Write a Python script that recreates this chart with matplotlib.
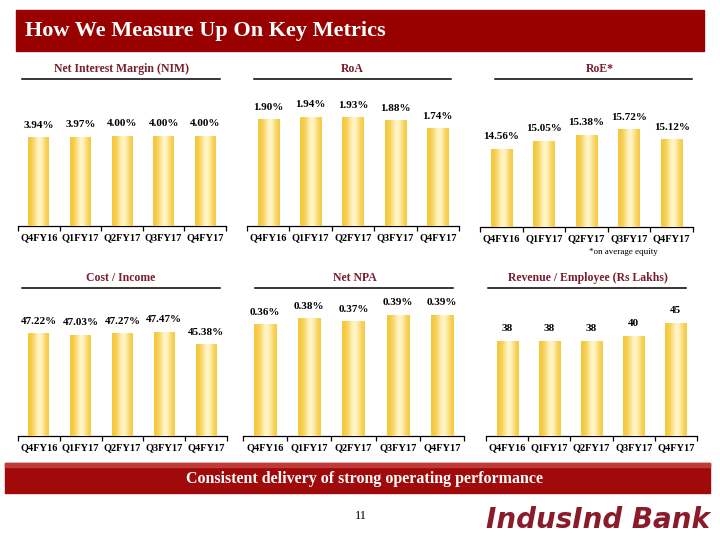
import numpy as np
import matplotlib
matplotlib.use("Agg")
import matplotlib.pyplot as plt
from matplotlib.patches import Rectangle

# data
quarters = ["Q4FY16", "Q1FY17", "Q2FY17", "Q3FY17", "Q4FY17"]
nim      = [3.94, 3.97, 4.00, 4.00, 4.00]
roa      = [1.90, 1.94, 1.93, 1.88, 1.74]
roe      = [14.56, 15.05, 15.38, 15.72, 15.12]
cost_inc = [47.22, 47.03, 47.27, 47.47, 45.38]
net_npa  = [0.36, 0.38, 0.37, 0.39, 0.39]
rev_emp  = [38, 38, 38, 40, 45]

W, H = 720, 540
RED = "#990000"
HEAD = "#7a1e2e"
SERIF = "Liberation Serif"

fig = plt.figure(figsize=(7.2, 5.4), dpi=100)
fig.patch.set_facecolor("white")

def box(x0, y0, x1, y1):
    # pixel box (top-left origin) -> figure fraction
    return [x0 / W, 1 - y1 / H, (x1 - x0) / W, (y1 - y0) / H]

# gold gradient across a bar
g = np.linspace(0, 1, 64)
shade = np.exp(-((g - 0.55) / 0.28) ** 2)
c_edge = np.array([0.96, 0.78, 0.22])
c_mid = np.array([1.0, 0.96, 0.78])
grad = c_edge[None, :] * (1 - shade[:, None]) + c_mid[None, :] * shade[:, None]
grad = grad[None, :, :]

def panel(px, values, ylo, yhi, fmt, title, hx, hline):
    ax = fig.add_axes(box(*px))
    x = np.arange(len(values))
    bars = ax.bar(x, [v - ylo for v in values], bottom=ylo, width=0.5,
                  color="#f5cb45", linewidth=0, zorder=2)
    for b, v in zip(bars, values):
        im = ax.imshow(grad, extent=(b.get_x(), b.get_x() + b.get_width(), ylo, v),
                       aspect="auto", zorder=3, interpolation="bilinear")
        im.set_clip_path(b)
        ax.annotate(fmt.format(v), (b.get_x() + b.get_width() / 2, v),
                    xytext=(0, 5.5), textcoords="offset points", ha="center",
                    va="bottom", fontsize=8, fontweight="bold", family=SERIF)
    ax.set_xlim(-0.5, len(values) - 0.5)
    ax.set_ylim(ylo, yhi)
    for s in ["top", "right", "left"]:
        ax.spines[s].set_visible(False)
    ax.spines["bottom"].set_color("black")
    ax.spines["bottom"].set_linewidth(0.9)
    ax.set_yticks([])
    ax.set_xticks(x)
    ax.set_xticklabels(quarters, fontsize=7.5, fontweight="bold", family=SERIF)
    ax.set_xticks(np.arange(len(values) + 1) - 0.5, minor=True)
    ax.tick_params(axis="x", which="major", length=0, pad=5)
    ax.tick_params(axis="x", which="minor", length=3.5, width=0.9, direction="out")
    ax.set_facecolor("none")
    # header + underline
    fig.text(hx / W, 1 - hline[2] / H + 10 / H, title, ha="center", va="center",
             fontsize=8.5, fontweight="bold", color=HEAD, family=SERIF)
    fig.add_artist(plt.Line2D([hline[0] / W, hline[1] / W],
                              [1 - hline[2] / H, 1 - hline[2] / H],
                              color="black", lw=1.1))
    return ax

# row 1
panel((18, 95, 226, 226), nim, 0, 5.82, "{:.2f}%", "Net Interest Margin (NIM)",
      121, (22, 220, 79))
panel((247, 95, 459, 226), roa, 0, 2.33, "{:.2f}%", "RoA", 352, (254, 451, 79))
panel((480, 95, 693, 227), roe, 10, 17.72, "{:.2f}%", "RoE*", 600, (495, 692, 79))
fig.text(623 / W, 1 - 252 / H, "*on average equity", ha="center", va="center",
         fontsize=6.5, family=SERIF)

# row 2
panel((18, 305, 227, 436), cost_inc, 30, 52.0, "{:.2f}%", "Cost / Income",
      121, (22, 220, 288))
panel((243, 305, 464, 436), net_npa, 0, 0.4226, "{:.2f}%", "Net NPA",
      355, (255, 453, 288))
panel((486, 305, 697, 436), rev_emp, 0, 52.2, "{:d}", "Revenue / Employee (Rs Lakhs)",
      588, (488, 686, 288))

# title band
fig.add_artist(Rectangle((16 / W, 1 - 51 / H), (704 - 16) / W, 41 / H,
                         transform=fig.transFigure, color=RED, zorder=0))
fig.text(25 / W, 1 - 31 / H, "How We Measure Up On Key Metrics", ha="left",
         va="center", fontsize=16, fontweight="bold", color="white", family=SERIF)

# bottom band
fig.add_artist(Rectangle((5 / W, 1 - 493 / H), (710 - 5) / W, 30 / H,
                         transform=fig.transFigure, color="#a00a0a", zorder=0))
fig.add_artist(Rectangle((5 / W, 1 - 467 / H), (710 - 5) / W, 4 / H,
                         transform=fig.transFigure, color="#c03a3a", zorder=0))
fig.text(364 / W, 1 - 479 / H, "Consistent delivery of strong operating performance",
         ha="center", va="center", fontsize=11.5, fontweight="bold", color="white",
         family=SERIF)
fig.text(361 / W, 1 - 516 / H, "11", ha="center", va="center", fontsize=9,
         family=SERIF)
fig.text(710 / W, 1 - 520 / H, "IndusInd Bank", ha="right", va="center",
         fontsize=20, fontweight="bold", style="italic", color="#8b1a2b",
         family="DejaVu Sans")

fig.savefig("out.png", dpi=100, facecolor="white")
